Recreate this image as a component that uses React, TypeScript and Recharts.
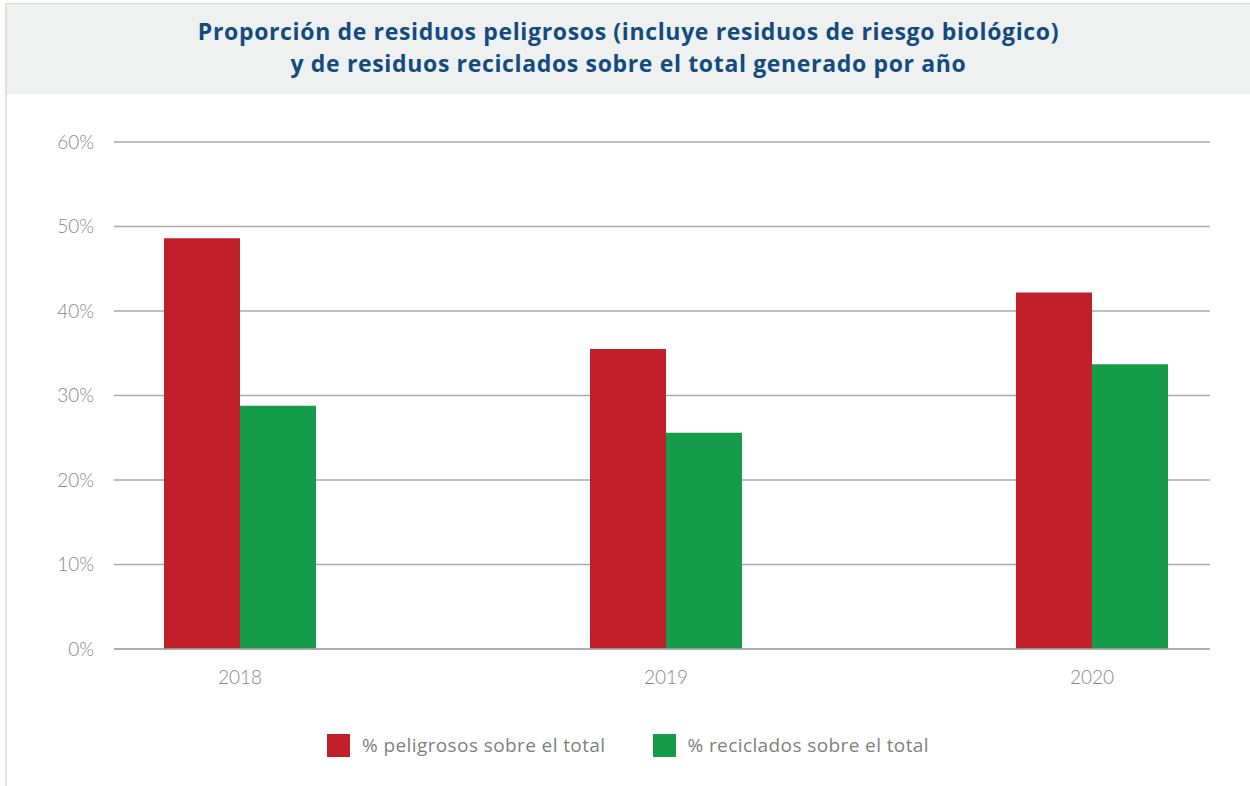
import React from "react";
import {
  BarChart,
  Bar,
  XAxis,
  YAxis,
  CartesianGrid,
  Legend,
} from "recharts";

// Values (percent of total waste per year)
const years = ["2018", "2019", "2020"];
const peligrosos = [48.6, 35.5, 42.2];
const reciclados = [28.8, 25.6, 33.7];
const yTicks = [0, 10, 20, 30, 40, 50, 60];

const seriesNames = {
  peligrosos: "% peligrosos sobre el total",
  reciclados: "% reciclados sobre el total",
};

const data = years.map((year, i) => ({
  year,
  peligrosos: peligrosos[i],
  reciclados: reciclados[i],
}));

const RED = "#c1202a";
const GREEN = "#149c4a";
const FONT = "Lato, 'Open Sans', sans-serif";
const WIDE_FONT = "'Open Sans', Lato, sans-serif";

function renderLegend(props: any) {
  const { payload = [] } = props;
  return (
    <div
      style={{
        display: "flex",
        justifyContent: "center",
        gap: 47,
        paddingLeft: 6,
        fontFamily: WIDE_FONT,
        fontSize: 19,
        letterSpacing: 0.4,
        color: "#808080",
      }}
    >
      {payload.map((entry: any) => (
        <span key={entry.value} style={{ display: "flex", alignItems: "center", gap: 12 }}>
          <span style={{ width: 23, height: 23, background: entry.color, display: "inline-block" }} />
          {entry.value}
        </span>
      ))}
    </div>
  );
}

export default function App() {
  return (
    <div style={{ position: "absolute", left: 0, top: 0, width: 1250, height: 786, background: "#fff", overflow: "hidden" }}>
      {/* frame */}
      <div
        style={{
          position: "absolute",
          left: 5,
          top: 3,
          width: 1245,
          height: 783,
          borderTop: "1px solid #ddd7d2",
          borderLeft: "2px solid #e6e1dd",
          boxSizing: "border-box",
        }}
      />
      {/* title panel */}
      <div
        style={{
          position: "absolute",
          left: 7,
          top: 4,
          width: 1243,
          height: 90,
          background: "#eff0f0",
          boxSizing: "border-box",
          paddingTop: 11,
          textAlign: "center",
          fontFamily: WIDE_FONT,
          fontWeight: 700,
          fontSize: 23,
          letterSpacing: 0.65,
          lineHeight: "32px",
          color: "#134b80",
        }}
      >
        Proporción de residuos peligrosos (incluye residuos de riesgo biológico)
        <br />
        y de residuos reciclados sobre el total generado por año
      </div>

      <div style={{ position: "absolute", left: 0, top: 94 }}>
        <BarChart
          width={1250}
          height={692}
          data={data}
          barGap={0}
          barSize={76}
          margin={{ top: 48, right: 40, left: 0, bottom: 107 }}
        >
          <CartesianGrid vertical={false} stroke="#aaaaaa" strokeWidth={1.5} />
          <XAxis
            dataKey="year"
            axisLine={{ stroke: "#aaaaaa", strokeWidth: 1.5 }}
            tickLine={false}
            tickSize={0}
            tickMargin={22}
            padding={{ left: -87, right: -95 }}
            tick={{ fontSize: 19, fill: "#888888", fontFamily: FONT, fontWeight: 300 }}
          />
          <YAxis
            width={114}
            domain={[0, 60]}
            ticks={yTicks}
            axisLine={false}
            tickLine={false}
            tickSize={0}
            tickMargin={20}
            tickFormatter={(v) => `${v}%`}
            tick={{ fontSize: 19, fill: "#888888", fontFamily: FONT, fontWeight: 300 }}
          />
          <Legend
            verticalAlign="middle"
            align="center"
            content={renderLegend}
            wrapperStyle={{ position: "absolute", top: 638, left: 0, width: 1250 }}
          />
          <Bar dataKey="peligrosos" name={seriesNames.peligrosos} fill={RED} isAnimationActive={false} />
          <Bar dataKey="reciclados" name={seriesNames.reciclados} fill={GREEN} isAnimationActive={false} />
        </BarChart>
      </div>
    </div>
  );
}
